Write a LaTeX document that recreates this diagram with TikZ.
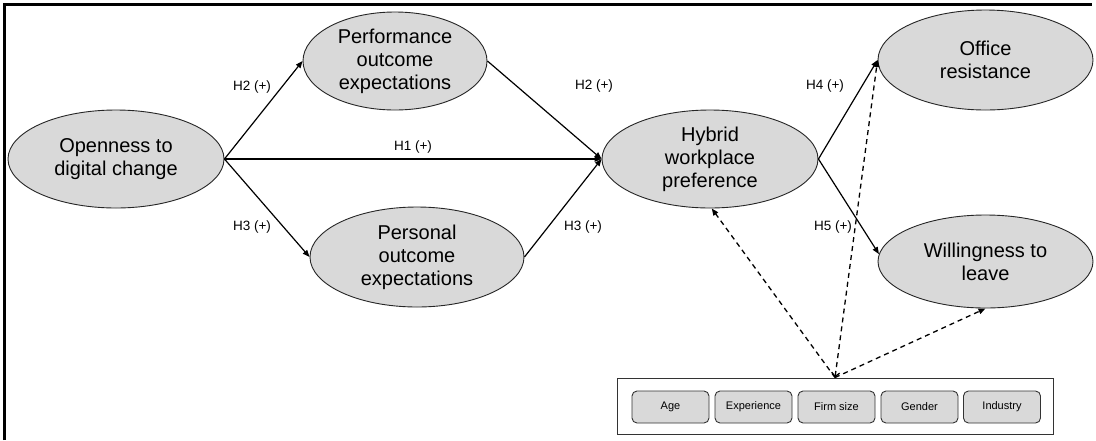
\documentclass[tikz,border=0pt]{standalone}
\usepackage{fontspec}
\setmainfont{Liberation Sans}
\usetikzlibrary{shapes.geometric,arrows.meta}
\definecolor{cfill}{RGB}{217,217,217}
\begin{document}
\begin{tikzpicture}[x=1pt,y=-1pt,
  construct/.style={ellipse, draw=black!85, line width=0.9pt, fill=cfill, inner sep=0pt,
    align=center, font=\fontsize{20}{23}\selectfont},
  ctrlbox/.style={draw=black!80, line width=0.9pt, fill=cfill, rounded corners=5pt,
    minimum width=77pt, minimum height=32pt, inner sep=0pt, font=\fontsize{11}{13}\selectfont},
  hyp/.style={font=\fontsize{13.5}{15}\selectfont, inner sep=0pt},
  path/.style={line width=1.2pt, -{Triangle[length=7pt,width=5.5pt]}},
  ctrlpath/.style={line width=1.3pt, dash pattern=on 5pt off 4pt, -{Triangle[length=7pt,width=5.5pt]}}]
\useasboundingbox (0,0) rectangle (1096,440);
\fill[white] (0,0) rectangle (1096,440);
% frame
\draw[line width=2.2pt] (4.5,440) -- (4.5,4.5) -- (1092,4.5);

% constructs
\node[construct, minimum width=216pt, minimum height=98pt] (open) at (116,159) {Openness to\\digital change};
\node[construct, minimum width=184pt, minimum height=98pt] (perf) at (395,61) {Performance\\outcome\\expectations};
\node[construct, minimum width=214pt, minimum height=100pt] (pers) at (417,257) {Personal\\outcome\\expectations};
\node[construct, minimum width=216pt, minimum height=98pt] (hyb) at (710,159) {Hybrid\\workplace\\preference};
\node[construct, minimum width=215pt, minimum height=100pt] (off) at (985.5,60) {Office\\resistance};
\node[construct, minimum width=215pt, minimum height=93pt] (will) at (985.5,261.5) {Willingness to\\leave};

% control variables
\node[draw=black!80, line width=1pt, fill=white, minimum width=436pt, minimum height=56pt, inner sep=0pt] (ctl) at (835,406) {};
\node[ctrlbox] (age) at (670.5,407) {Age};
\node[ctrlbox] (exp) at (753.5,407) {Experience};
\node[ctrlbox] (firm) at (836.5,407) {Firm size};
\node[ctrlbox] (gen) at (919.5,407) {Gender};
\node[ctrlbox] (ind) at (1002,407) {Industry};

% hypothesised paths
\draw[path] (open.east) -- (perf.west);
\draw[path] (open.east) -- (pers.west);
\draw[path] (open.east) -- (hyb.west);
\draw[path] (perf.east) -- (hyb.west);
\draw[path] (pers.east) -- (hyb.west);
\draw[path] (hyb.east) -- (off.west);
\draw[path] (hyb.east) -- (will.176);

% control paths
\draw[ctrlpath] (ctl.north) -- (hyb.272);
\draw[ctrlpath, {Straight Barb[length=4pt,width=8pt]}-{Triangle[length=7pt,width=5.5pt]}] (ctl.north) -- (off.west);
\draw[ctrlpath] (ctl.north) -- (will.south);

% path labels
\node[hyp] (h2a) at (252,87) {H2 (+)};
\node[hyp] (h1) at (413,147) {H1 (+)};
\node[hyp] (h3a) at (252,227) {H3 (+)};
\node[hyp] (h2b) at (594,86) {H2 (+)};
\node[hyp] (h3b) at (583,227) {H3 (+)};
\node[hyp] (h4) at (825,86) {H4 (+)};
\node[hyp] (h5) at (833,227) {H5 (+)};
\end{tikzpicture}
\end{document}
